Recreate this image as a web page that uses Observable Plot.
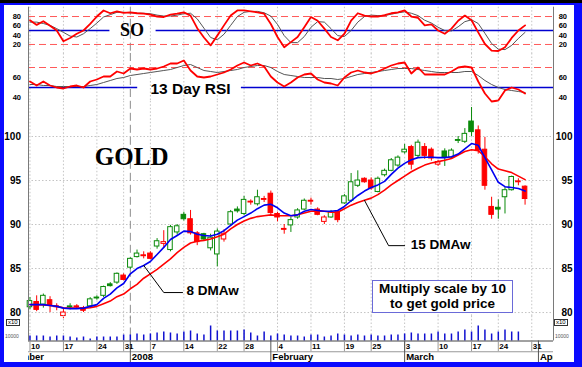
<!DOCTYPE html>
<html><head><meta charset="utf-8">
<script src="https://cdn.jsdelivr.net/npm/d3@7"></script>
<script src="https://cdn.jsdelivr.net/npm/@observablehq/plot@0.6"></script>
<style>
html,body{margin:0;padding:0;background:#fff;font-family:"Liberation Sans",Arial,sans-serif;}
#frame{position:relative;width:582px;height:367px;background:#0a0aff;overflow:hidden;}
#inner{position:absolute;left:4px;top:5px;width:570px;height:357px;background:#fff;}
#topbar{position:absolute;left:0;top:0;width:582px;height:3px;background:#000;}
#frame svg{position:absolute;left:0;top:0;}
.x10{position:absolute;font:6px "Liberation Sans",Arial,sans-serif;border:1px solid #333;line-height:5.5px;padding:0 1px;color:#000;background:#fff;}
.tiny{position:absolute;font:5px "Liberation Sans",Arial,sans-serif;color:#555;}
#note{position:absolute;left:372px;top:280px;width:139px;height:30px;border:1.5px solid #6a6ad8;background:#fff;
  font:bold 13.5px "Liberation Sans",Arial,sans-serif;color:#000;text-align:center;line-height:14.5px;padding-top:1px;}
</style></head>
<body>
<div id="frame"><div id="topbar"></div><div id="inner"></div></div>
<script>
// ---------- data ----------
const dates = [
 "2007-12-10","2007-12-11","2007-12-12","2007-12-13","2007-12-14","2007-12-17","2007-12-18","2007-12-19","2007-12-20","2007-12-21",
 "2007-12-24","2007-12-26","2007-12-27","2007-12-28","2007-12-31","2008-01-02","2008-01-03","2008-01-04","2008-01-07","2008-01-08",
 "2008-01-09","2008-01-10","2008-01-11","2008-01-14","2008-01-15","2008-01-16","2008-01-17","2008-01-18","2008-01-22","2008-01-23",
 "2008-01-24","2008-01-25","2008-01-28","2008-01-29","2008-01-30","2008-01-31","2008-02-01","2008-02-04","2008-02-05","2008-02-06",
 "2008-02-07","2008-02-08","2008-02-11","2008-02-12","2008-02-13","2008-02-14","2008-02-15","2008-02-19","2008-02-20","2008-02-21",
 "2008-02-22","2008-02-25","2008-02-26","2008-02-27","2008-02-28","2008-02-29","2008-03-03","2008-03-04","2008-03-05","2008-03-06",
 "2008-03-07","2008-03-10","2008-03-11","2008-03-12","2008-03-13","2008-03-14","2008-03-17","2008-03-18","2008-03-19","2008-03-20",
 "2008-03-24","2008-03-25","2008-03-26","2008-03-27","2008-03-28"];
const open = [80.6,81.2,80.9,81.4,80.7,79.6,80.6,80.7,80.5,80.7, 81.6,81.9,83.2,83.4,84.2,85.1,86.3,86.5,86.7,87.5,
 87.8,87.1,89.1,91.1,90.6,89.0,88.9,87.3,86.6,88.3, 90.0,91.7,91.2,92.6,92.3,92.9,93.5,91.2,89.5,89.9,
 90.8,91.7,92.7,91.7,90.3,90.8,91.4,92.4,92.7,94.4, 95.2,95.0,93.7,95.6,96.1,96.7,98.2,98.8,97.8,98.8,
 98.5,96.8,98.3,97.6,99.5,99.4,101.7,100.7,98.5,92.0, 91.9,93.1,93.9,94.9,94.3];
const high = [81.7,81.9,82.1,81.8,81.0,80.4,81.0,80.9,80.7,81.7, 81.9,83.0,83.4,84.5,84.4,86.2,87.1,86.9,86.9,88.4,
 89.3,89.9,90.0,91.4,91.6,89.2,89.0,88.9,89.5,89.4, 91.6,92.0,93.2,92.8,93.9,93.2,93.8,91.4,90.0,90.8,
 91.8,92.9,93.0,91.9,91.0,91.6,91.5,93.4,95.8,96.1, 95.3,95.3,95.4,96.3,97.5,97.8,99.1,99.0,99.6,99.2,
 98.7,97.3,98.6,98.6,100.0,100.9,103.3,101.2,99.9,93.1, 92.8,94.2,95.5,95.2,94.4];
const low = [80.3,80.1,80.5,80.0,80.2,79.3,80.3,80.4,80.0,80.5, 81.4,81.7,82.9,83.2,83.6,84.9,86.2,86.1,86.0,87.2,
 87.3,86.9,88.8,90.4,88.8,87.6,88.1,87.0,85.2,88.0, 89.8,91.3,91.0,92.2,92.1,92.5,91.1,90.3,88.9,89.1,
 90.6,91.6,92.2,91.0,90.0,90.7,90.2,92.3,92.5,94.2, 94.7,93.9,93.6,95.4,96.0,96.5,98.0,96.2,97.5,97.4,
 97.2,96.6,96.6,97.4,99.2,99.2,100.0,98.0,93.9,90.6, 90.6,91.2,93.8,94.4,92.2];
const close = [81.3,80.3,81.9,80.8,80.6,80.0,80.7,80.6,80.2,81.5, 81.7,82.9,83.0,84.4,83.7,86.1,86.7,86.4,86.1,88.1,
 88.0,89.7,89.8,90.6,89.0,88.0,88.3,88.5,89.2,88.9, 91.4,91.5,92.8,92.5,93.1,92.8,91.3,90.8,89.4,90.5,
 91.6,92.7,92.6,91.1,90.8,91.4,90.5,93.2,94.8,95.0, 94.8,94.1,95.2,96.1,97.3,97.6,98.5,96.8,99.3,97.8,
 97.5,97.1,97.6,98.4,99.6,100.3,100.5,98.4,94.4,91.1, 91.7,93.9,95.4,94.8,92.9];
const ma8 = [80.9,80.9,80.9,80.8,80.7,80.5,80.45,80.45,80.5,80.7, 80.9,81.6,82.1,82.8,83.3,84.4,85.0,85.35,85.8,86.6,
 87.4,88.3,88.75,89.25,89.2,88.9,88.75,88.7,88.9,89.3, 89.9,90.5,90.9,91.3,91.8,92.2,92.3,91.9,91.3,91.0,
 91.1,91.5,91.7,91.6,91.5,91.5,91.6,92.05,92.7,93.3, 93.8,94.2,94.5,94.9,95.7,96.4,96.95,97.35,97.6,97.65,
 97.65,97.6,97.6,97.7,98.0,98.6,99.2,99.0,97.6,96.2, 94.8,94.3,94.2,94.1,93.8];
const ma15 = [80.9,80.9,80.85,80.8,80.7,80.55,80.5,80.5,80.5,80.55, 80.7,81.0,81.3,81.8,82.1,82.7,83.2,83.9,84.4,84.9,
 85.5,86.1,86.8,87.4,87.9,88.1,88.2,88.35,88.6,88.9, 89.5,90.0,90.4,90.7,90.9,91.0,91.1,91.0,91.0,91.0,
 91.1,91.3,91.5,91.55,91.5,91.4,91.4,91.8,92.2,92.5, 92.75,93.0,93.4,93.9,94.5,95.0,95.5,96.0,96.4,96.75,
 97.0,97.15,97.3,97.5,97.9,98.3,98.5,98.4,97.7,96.9, 96.3,96.1,95.9,95.5,95.1];
const volume = [5,5,5,4,5,5,4,3,4,2, 4,4,4,4,6,6,7,6,7,8, 9,8,7,9,10,7,6,15,10,10,
 10,10,11,8,5,9,5,7,6,5, 5,4,6,6,4,5,7,6,5,6, 5,6,5,5,6,6,7,8,7,7,
 7,9,7,7,9,11,9,15,11,7, 9,11,9,9,null];
const soK = [72,62,70,60,50,27,34,43,50,64, 80,93,87,91,88,89,87,86,84,80, 79,84,86,89,82,55,35,18,39,61,
 82,93,93,91,89,86,64,36,14,25, 36,57,79,71,54,36,29,43,71,87, 82,80,80,83,87,89,93,80,77,61,
 63,50,43,54,71,82,72,46,21,7, 6,14,34,50,61];
const soD = [68,68,65,61,54,46,38,36,43,54, 66,79,84,89,89,88,87,87,86,83, 81,81,83,86,87,75,55,35,30,42,
 61,80,89,91,91,88,81,63,39,24, 24,37,57,69,68,54,39,37,50,68, 80,83,82,82,85,88,90,87,82,72,
 66,57,50,49,58,69,73,65,44,22, 10,9,18,33,46];
const rsi = [56,52,56,52,50,49,51,52,50,56, 58,61,61,66,64,69,68,69,68,69, 71,74,74,77,67,61,60,61,63,65,
 68,72,75,72,74,71,61,55,51,55, 60,63,64,58,55,54,52,60,65,67, 65,64,66,69,72,74,75,64,70,63,
 63,63,63,66,70,71,70,56,44,36, 37,47,50,48,44];
const rsiSig = [53,53,52,52,51,51,51,51,51,52, 53,55,57,59,60,62,63,64,65,66, 67,68,70,72,73,70,67,66,65,66,
 67,68,70,71,72,72,70,66,63,62, 61,60,60,60,59,59,58,59,61,63, 64,65,66,67,68,69,69,69,68,67,
 66,65,65,65,65,66,66,62,57,53, 50,48,47,46,45];
const weekTickIndex = [0,5,10,14,18,23,28,32,37,42,47,51,56,61,66,70,75];
const weekTickLabel = ["10","17","24","31","7","14","22","28","4","11","19","25","3","10","17","24","31"];
const monthIndex = [-5,15,36,56,76];
const monthLabel = ["December","2008","February","March","Apr"];
const soTicks = [20,40,60,80];
const rsiTicks = [40,60];
const priceTicks = [80,85,90,95,100];
const soBands = [20,80];
const rsiBands = [70];
const midLine = 50;

// ---------- derived tables ----------
const GREEN = "#0a8a0a", RED = "#ff0000", BLUE = "#0000f0", MID = "#0000d0", GRID = "#c4c4c4", AXIS = "#7a7a7a";
const candles = dates.map((date, i) => {
  const prev = i > 0 ? close[i - 1] : open[i];
  const lo = Math.min(open[i], close[i]);
  return {i, date, open: open[i], high: high[i], low: low[i], close: close[i],
    bodyLo: lo, bodyHi: Math.max(open[i], close[i], lo + 0.08),
    color: close[i] >= prev ? GREEN : RED, fill: close[i] < open[i] ? (close[i] >= prev ? GREEN : RED) : "white",
    ma8: ma8[i], ma15: ma15[i], vol: volume[i], soK: soK[i], soD: soD[i], rsi: rsi[i], rsiSig: rsiSig[i]};
});
const weekTicks = weekTickIndex.map((i, k) => ({i, label: weekTickLabel[k]}));
const months = monthIndex.map((i, k) => ({i, label: monthLabel[k]}));
const yearIdx = monthIndex[1];

// annotation anchors (index, value units)
const soLabel = {i: 15.25, v: midLine, text: "SO", gapL: 3.3, gapR: 3.6};
const rsiLabel = {i: 24.0, v: midLine, text: "13 Day RSI", gapL: 7.9, gapR: 7.6};
const goldLabel = {i: 15.2, p: 97.7, text: "GOLD"};
const lab8 = {i: 23.4, p: 82.45, text: "8 DMAw"};
const ptr8 = [{i: 17, p: ma8[17]}, {i: 20, p: 82.27}, {i: 22.8, p: 82.27}];
const lab15 = {i: 56.9, p: 87.72, text: "15 DMAw"};
const ptr15 = [{i: 50, p: ma15[50]}, {i: 53.6, p: 87.6}, {i: 56.0, p: 87.6}];

// ---------- plots ----------
const W = 582, H = 367;
const xDomain = [-0.22, 78.25];
const common = {width: W, height: H, marginLeft: 28, marginRight: 29,
  x: {domain: xDomain, axis: null}, color: {type: "identity"},
  style: {background: "transparent", overflow: "visible", fontFamily: "'Liberation Sans', Arial, sans-serif"}};
const frame = document.getElementById("frame");
const tickFont = {fontWeight: "bold", fill: "#000"};

function gridX() {
  return [
    Plot.ruleX(weekTicks, {x: "i", stroke: GRID, strokeDasharray: "1.5,2"}),
    Plot.ruleX([yearIdx], {stroke: "#8c8c8c", strokeDasharray: "8,4"})
  ];
}
function sideLabels(ticks, size) {
  return [
    Plot.text(ticks, {y: d => d, text: d => String(d), frameAnchor: "left", textAnchor: "end", dx: -7.5, fontSize: size, ...tickFont}),
    Plot.text(ticks, {y: d => d, text: d => String(d), frameAnchor: "right", textAnchor: "end", dx: size > 9 ? 19 : 13.5, fontSize: size, ...tickFont})
  ];
}
function splitMid(label) {
  return [
    Plot.ruleY([label.v], {x1: xDomain[0], x2: label.i - label.gapL, stroke: MID, strokeWidth: 1.6}),
    Plot.ruleY([label.v], {x1: label.i + label.gapR, x2: xDomain[1], stroke: MID, strokeWidth: 1.6})
  ];
}

const soPlot = Plot.plot({...common,
  marginTop: 6.7, marginBottom: H - 53.3,
  y: {domain: [0, 100], axis: null},
  marks: [
    ...gridX(),
    Plot.ruleY(soBands, {stroke: "#ff5a5a", strokeDasharray: "7,4"}),
    ...splitMid(soLabel),
    Plot.text([soLabel], {x: "i", y: "v", text: "text", fontFamily: "'Liberation Serif', 'Times New Roman', serif", fontWeight: "bold", fontSize: 18, fill: "#000"}),
    Plot.line(candles, {x: "i", y: "soD", stroke: "#555", strokeWidth: 1}),
    Plot.line(candles, {x: "i", y: "soK", stroke: RED, strokeWidth: 1.8}),
    Plot.ruleX(xDomain, {stroke: AXIS}),
    ...sideLabels(soTicks, 7.5)
  ]});

const rsiPlot = Plot.plot({...common,
  marginTop: 53, marginBottom: H - 101,
  y: {domain: [36, 84], axis: null},
  marks: [
    ...gridX(),
    Plot.ruleY(rsiBands, {stroke: "#ff5a5a", strokeDasharray: "7,4"}),
    ...splitMid(rsiLabel),
    Plot.text([rsiLabel], {x: "i", y: "v", text: "text", dy: 1.5, fontWeight: "bold", fontSize: 15.5, fill: "#000"}),
    Plot.line(candles, {x: "i", y: "rsiSig", stroke: "#555", strokeWidth: 1}),
    Plot.line(candles, {x: "i", y: "rsi", stroke: RED, strokeWidth: 1.8}),
    Plot.ruleX(xDomain, {stroke: AXIS}),
    ...sideLabels(rsiTicks, 7.5)
  ]});

const pricePlot = Plot.plot({...common,
  marginTop: 100.8, marginBottom: H - 318.2,
  y: {domain: [79.3, 104], axis: null},
  marks: [
    Plot.ruleY(priceTicks, {stroke: GRID, strokeDasharray: "1.5,2"}),
    ...gridX(),
    Plot.ruleX(candles, {x: "i", y1: "low", y2: "high", stroke: "color", strokeWidth: 1}),
    Plot.rect(candles, {x1: d => d.i - 0.34, x2: d => d.i + 0.34, y1: "bodyLo", y2: "bodyHi", fill: "fill", stroke: "color", strokeWidth: 1}),
    Plot.line(candles, {x: "i", y: "ma15", stroke: RED, strokeWidth: 1.6}),
    Plot.line(candles, {x: "i", y: "ma8", stroke: BLUE, strokeWidth: 1.6}),
    Plot.line(ptr8, {x: "i", y: "p", stroke: "#000", strokeWidth: 1}),
    Plot.line(ptr15, {x: "i", y: "p", stroke: "#000", strokeWidth: 1}),
    Plot.text([lab8, lab15], {x: "i", y: "p", text: "text", textAnchor: "start", fontWeight: "bold", fontSize: 13.5, fill: "#000"}),
    Plot.text([goldLabel], {x: "i", y: "p", text: "text", fontFamily: "'Liberation Serif', 'Times New Roman', serif", fontWeight: "bold", fontSize: 25, fill: "#000"}),
    Plot.ruleX(xDomain, {stroke: AXIS}),
    ...sideLabels(priceTicks, 10)
  ]});

const volPlot = Plot.plot({...common,
  marginTop: 315.5, marginBottom: H - 340.5,
  y: {domain: [0, 25], axis: null},
  marks: [
    ...gridX(),
    Plot.ruleX(candles.filter(d => d.vol != null), {x: "i", y1: 0, y2: "vol", stroke: "#1010d0", strokeWidth: 1.5}),
    Plot.ruleX(xDomain, {stroke: AXIS})
  ]});

const axisPlot = Plot.plot({...common,
  marginTop: 340.5, marginBottom: 5,
  y: {domain: [0, 2], axis: null},
  marks: [
    Plot.ruleY([2], {stroke: "#444"}),
    Plot.ruleY([1], {stroke: "#999"}),
    Plot.ruleX(weekTicks, {x: "i", y1: 1, y2: 2, stroke: "#999"}),
    Plot.ruleX(months, {x: "i", y1: 0, y2: 2, stroke: "#555"}),
    Plot.text(weekTicks, {x: "i", y: 1.5, text: "label", textAnchor: "start", dx: 1, fontSize: 8, ...tickFont}),
    Plot.text(months, {x: "i", y: 0.5, text: "label", textAnchor: "start", dx: 1.5, fontSize: 9.5, clip: true, ...tickFont})
  ]});

for (const p of [soPlot, rsiPlot, pricePlot, volPlot, axisPlot]) frame.appendChild(p);

// overlay notes
function addDiv(cls, css, html) {
  const d = document.createElement("div");
  d.className = cls; d.style.cssText = css; d.innerHTML = html; frame.appendChild(d);
}
addDiv("x10", "left:6px;top:318.5px;", "x10");
addDiv("x10", "left:554px;top:318.5px;", "x10");
addDiv("tiny", "left:5px;top:333px;", "10000");
addDiv("tiny", "left:555px;top:333px;", "10000");
const note = document.createElement("div");
note.id = "note";
note.innerHTML = "Multiply scale by 10<br>to get gold price";
frame.appendChild(note);
</script>
</body></html>
